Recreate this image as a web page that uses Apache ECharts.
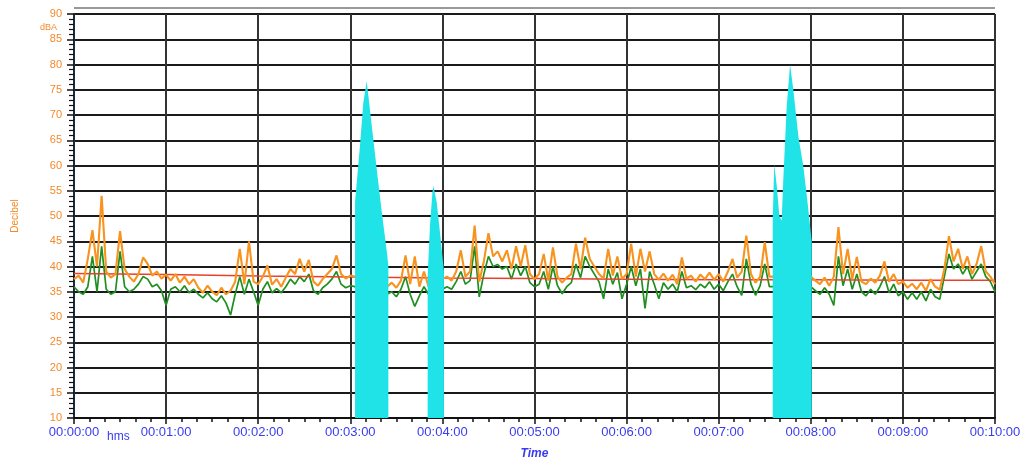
<!DOCTYPE html>
<html><head><meta charset="utf-8">
<script src="https://cdn.jsdelivr.net/npm/echarts@6/dist/echarts.min.js"></script>
<style>html,body{margin:0;padding:0;background:#fff}#c{width:1027px;height:465px}</style>
</head><body><div id="c"></div>
<script>
// sample spacing of the level traces, in seconds
const sampleStep = 3;
const orangeValues = [
37.5,38.2,36.8,41.5,47.2,40,54,39,37.8,38.5,
47,39.5,38,37,38.5,41.8,40.5,38.2,39,37.6,
38.4,37.2,38.5,36.8,38,36.5,37.5,35.8,34.8,36.2,
35,34.3,35.8,34.5,35.2,37,43.5,36.5,45,37,
36.5,38,40.2,36.4,37.5,36,37.8,39.5,38.5,41.5,
39,41.3,37,36.2,37.5,38.5,39.5,42.2,38.5,37.6,
38.2,38,37.5,38,37,36.5,36,35.5,36,36.8,
35.8,37.2,42.2,36.5,42,36,39,36,36.5,37,
37.5,38,37.2,39,43.2,38,39,48.1,37,41,
46.6,42,43,41,43.2,39.5,44,40,44.2,38.5,
37.5,38.5,42.5,37.2,43.8,38,36.8,37.8,38.5,44.5,
39.5,45.7,41.5,40,38.5,37.6,43.5,38.2,42,37.5,
38.5,44.5,38,43.5,39,43,38.5,37.4,38.6,37.2,
38.4,36.5,41.8,37.6,38.2,37,38.4,37.5,38.8,37.4,
38.5,37,39,41.5,37.8,39,46.1,38.5,36.8,38,
44.8,38,38,37.5,38,37,37.5,38,37,37.5,
38,37.2,36.5,37.8,36.2,38,47.8,38.5,43.5,37.5,
41.9,37,36.5,37.6,36.8,38.2,41,37,38.5,36.5,
37,35.8,36.6,35.5,36.8,35.2,37.5,36,35.4,39.5,
46,41,43.5,39.5,42,38.5,40.5,44,39,38,
36.5];
const greenValues = [
36,35,34.5,36,42,35,44,35.5,34.5,35,
43,36,35,35.5,36.5,38,37.5,36,36.5,35.2,
32.3,35.5,36,35,36.2,34.8,35.5,34.5,33.8,34.8,
33.6,33,34.2,32.8,30.4,34.5,38,34.5,37.5,35,
32.3,35.5,37,34.8,35.6,34.8,36,37.5,36.5,38,
37,38.5,35.2,34.5,35.8,36.5,37.5,39,36.5,35.8,
36.2,36,35.5,36,35.2,34.8,34.5,34,34.5,35,
34,35.5,38,34.5,32.1,34.2,36,34.5,35,35,
35.5,36,35.5,37,39,36.5,37.2,44,34,38.5,
42,40,40.4,39.5,40,37.5,40.5,38.2,40,36.8,
36,36.5,39,35.5,40,36.2,34.6,36,36.8,40.5,
37.8,42,40,38.5,37,33.6,39.5,36.5,38.8,33.6,
36.5,40,36.2,39.5,31.7,39,36.5,33.6,36.8,35.5,
36.5,35,39,35.8,36.2,35.4,36.5,35.8,37,35.5,
36.5,35.2,37,38.5,36,34.3,41.5,36.5,34.3,36.2,
40.5,36,36,35.5,36,35.2,35.5,36,35.2,35.5,
36,35.2,34.5,35.8,34.5,32.3,42,36.2,39.5,35.5,
38.5,35,34.2,35.5,34.5,36,38,34.8,36.5,34.2,
35,33.5,34.8,33.5,35,33.2,35.5,34,33.5,38,
42.5,39.5,40.5,38.5,40,37.5,39,40.5,38,37,
35];
const redTimes  = [0,60,120,180,240,300,360,420,480,540,600];
const redValues = [38.6,38.4,38.1,37.9,37.7,37.6,37.5,37.4,37.4,37.3,37.3];
const peak1Times  = [183.1,186.3,188.5,190.7,194.0,197.2,200.5,204.1,204.8];
const peak1Values = [52.8,63.9,72.5,76.7,67.8,59.3,50.8,42.2,40];
const peak2Times  = [230.4,231.9,233.5,234.1,236.3,238.4,240.2,241.0];
const peak2Values = [38,48,54.7,56,52.7,46.8,41.5,39];
const peak3Times  = [455.2,456.2,457.8,459.5,461.0,462.1,464.3,466.5,468.6,471.9,475.1,477.4,479.5,480.6];
const peak3Values = [49.4,60.2,56,50,49.1,57.3,71.7,80,75,65.8,59.9,54,48.1,45];

const pairs = (ts, vs) => ts.map((t, i) => [t, vs[i]]);
const stepPairs = vs => vs.map((v, i) => [i * sampleStep, v]);
const pad = n => String(n).padStart(2, '0');
const fmtTime = s => '00:' + pad(Math.floor(s / 60)) + ':' + pad(Math.round(s % 60));

const blue = '#3a3af0', orange = '#f5892a';
const chart = echarts.init(document.getElementById('c'), null, {renderer: 'canvas'});
const peakSeries = (ts, vs) => ({
  type: 'line', data: pairs(ts, vs), showSymbol: false, symbol: 'none',
  lineStyle: {width: 0}, areaStyle: {color: '#1fe3e6', opacity: 1, origin: 'start'},
  itemStyle: {color: '#1fe3e6'}, z: 5, animation: false
});
chart.setOption({
  animation: false,
  backgroundColor: '#fff',
  grid: {left: 74, right: 32, top: 14, bottom: 45},
  xAxis: {
    type: 'value', min: 0, max: 600, interval: 60,
    name: 'Time', nameLocation: 'middle', nameGap: 30,
    nameTextStyle: {color: blue, fontStyle: 'italic', fontWeight: 'bold', fontSize: 12, fontFamily: 'Liberation Sans'},
    axisLine: {show: true, onZero: false, lineStyle: {color: '#111', width: 2}},
    axisTick: {show: true, length: 6, lineStyle: {color: '#111', width: 1.5}},
    minorTick: {show: true, splitNumber: 6, length: 4, lineStyle: {color: '#111', width: 1.5}},
    axisLabel: {color: blue, fontSize: 13, fontFamily: 'Liberation Sans', margin: 8, formatter: fmtTime},
    splitLine: {show: true, lineStyle: {color: '#333', width: 2}}
  },
  yAxis: {
    type: 'value', min: 10, max: 90, interval: 5,
    name: 'Decibel', nameLocation: 'middle', nameGap: 54, nameRotate: 90,
    nameTextStyle: {color: orange, fontSize: 10, fontFamily: 'Liberation Sans'},
    axisLine: {show: true, lineStyle: {color: '#1d2b3a', width: 2}},
    axisTick: {show: true, length: 7, lineStyle: {color: '#111', width: 1.5}},
    minorTick: {show: true, splitNumber: 5, length: 5, lineStyle: {color: '#111', width: 1.2}},
    axisLabel: {color: orange, fontSize: 11, fontFamily: 'Liberation Sans', margin: 12},
    splitLine: {show: true, lineStyle: {color: '#1a1a1a', width: 2}}
  },
  graphic: [
    {type: 'line', shape: {x1: 74, y1: 8, x2: 995, y2: 8}, style: {stroke: '#777', lineWidth: 1.5}, z: 10},
    {type: 'text', left: 40, top: 23, style: {text: 'dBA', fill: orange, font: '9px "Liberation Sans"'}, z: 10},
    {type: 'text', left: 107, top: 431, style: {text: 'hms', fill: blue, font: '12px "Liberation Sans"'}, z: 10}
  ],
  series: [
    {type: 'line', data: stepPairs(greenValues), symbol: 'none', lineStyle: {color: '#1f8f1f', width: 1.7}, z: 2},
    {type: 'line', data: pairs(redTimes, redValues), symbol: 'none', lineStyle: {color: '#e8402a', width: 1.5}, z: 2},
    {type: 'line', data: stepPairs(orangeValues), symbol: 'none', lineStyle: {color: '#f7931e', width: 2.1}, z: 3},
    peakSeries(peak1Times, peak1Values),
    peakSeries(peak2Times, peak2Values),
    peakSeries(peak3Times, peak3Values)
  ]
});
</script></body></html>
